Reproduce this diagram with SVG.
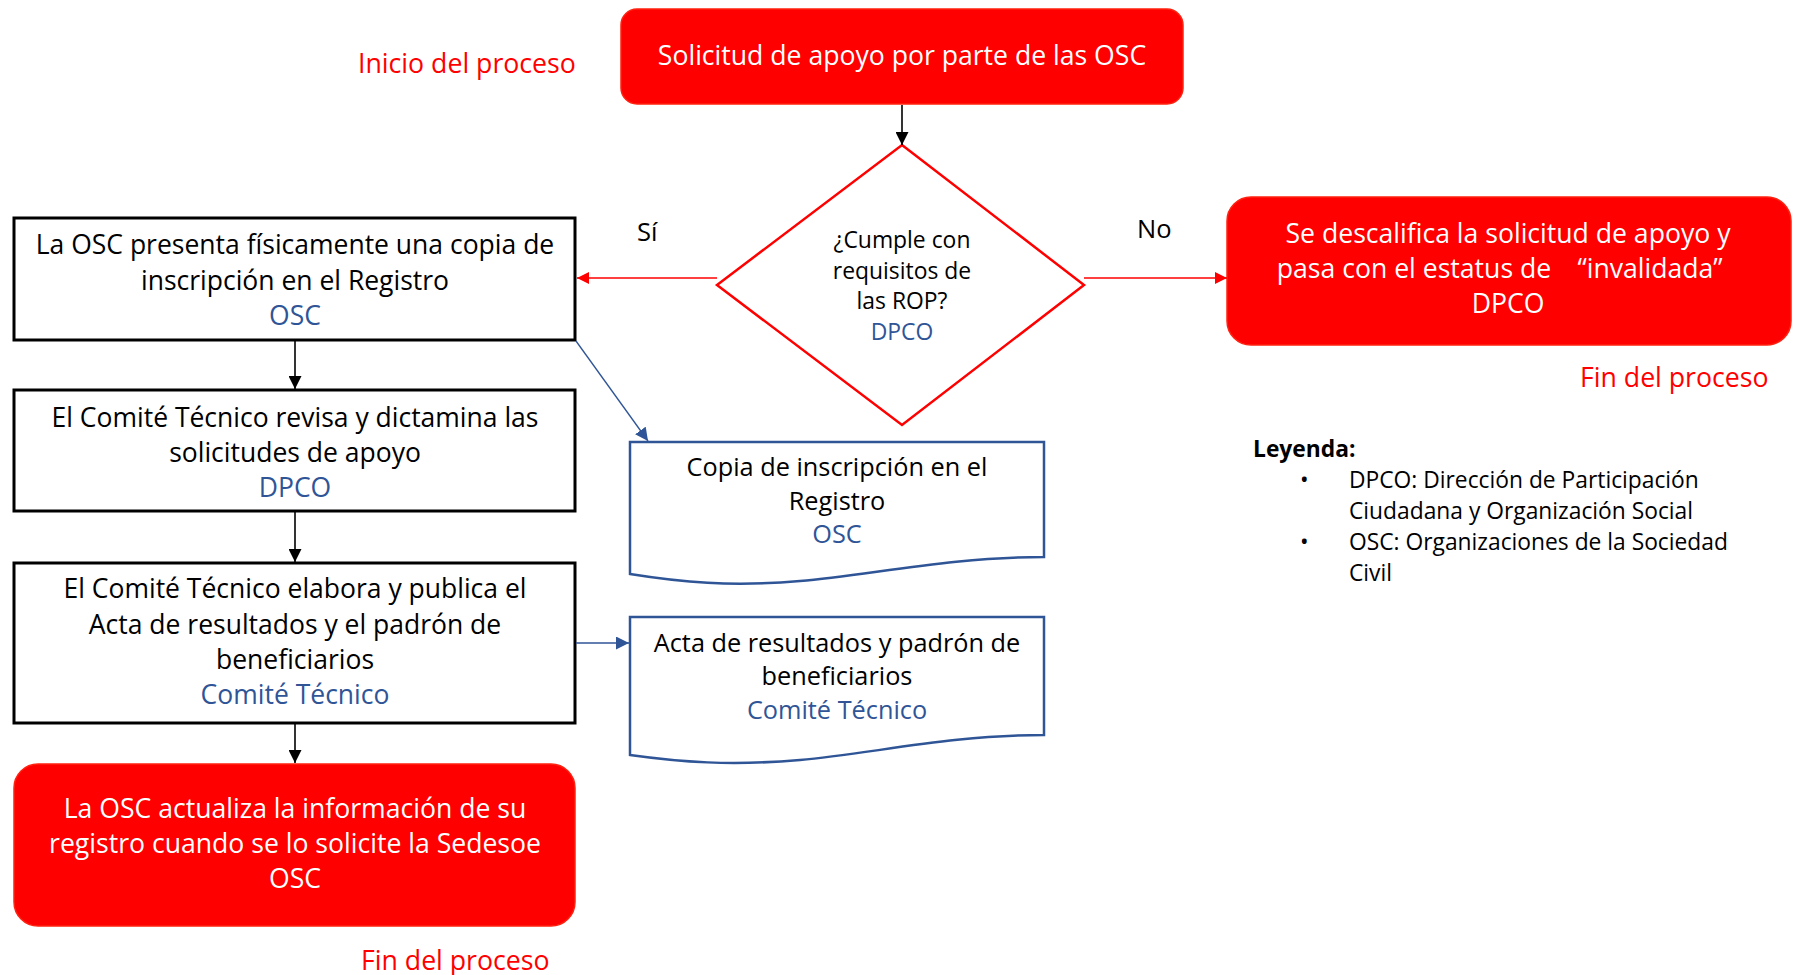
<svg xmlns="http://www.w3.org/2000/svg" width="1793" height="975" viewBox="0 0 1793 975">
<defs>
<style>
text{font-family:"Open Sans","Noto Sans","Liberation Sans",sans-serif;}
.t{font-size:26.5px;fill:#000;text-anchor:middle;}
.w{font-size:26.6px;fill:#fff;text-anchor:middle;}
.d{font-size:22.9px;fill:#000;text-anchor:middle;}
.dc{font-size:25.3px;fill:#000;text-anchor:middle;}
.lbl{font-size:26.7px;fill:#FF0000;}
.yn{font-size:25.5px;fill:#000;}
.lg{font-size:22.8px;fill:#000;}
text.b{fill:#2F5597;}
.box{fill:#fff;stroke:#000;stroke-width:3;}
.red{fill:#FF0000;stroke:#F21;stroke-width:1.5;}
.doc{fill:#fff;stroke:#2F5597;stroke-width:2.5;}
.ck{stroke:#000;stroke-width:1.6;fill:none;}
.cr{stroke:#FF0000;stroke-width:1.3;fill:none;}
.cb{stroke:#2F5597;stroke-width:1.3;fill:none;}
</style>
<marker id="ak" viewBox="0 0 10 10" refX="10" refY="5" markerWidth="13" markerHeight="13" markerUnits="userSpaceOnUse" orient="auto"><path d="M0,0 L10,5 L0,10 Z" fill="#000"/></marker>
<marker id="ar" viewBox="0 0 10 10" refX="10" refY="5" markerWidth="12" markerHeight="12" markerUnits="userSpaceOnUse" orient="auto"><path d="M0,0 L10,5 L0,10 Z" fill="#FF0000"/></marker>
<marker id="ab" viewBox="0 0 10 10" refX="10" refY="5" markerWidth="13" markerHeight="13" markerUnits="userSpaceOnUse" orient="auto"><path d="M0,0 L10,5 L0,10 Z" fill="#2F5597"/></marker>
</defs>
<rect width="1793" height="975" fill="#fff"/>

<text class="lbl" x="358" y="73">Inicio del proceso</text>

<g id="start">
<rect class="red" x="621" y="9" width="562" height="95" rx="16"/>
<text class="w" x="902" y="65">Solicitud de apoyo por parte de las OSC</text>
</g>

<g id="decision">
<polygon points="902,145 1084,285 902,425 717,285" fill="#fff" stroke="#FF0000" stroke-width="2.5"/>
<text class="d" x="902" y="248">¿Cumple con</text>
<text class="d" x="902" y="279">requisitos de</text>
<text class="d" x="902" y="309">las ROP?</text>
<text class="d b" x="902" y="340">DPCO</text>
</g>

<text class="yn" x="637" y="241">Sí</text>
<text class="yn" x="1137" y="238">No</text>

<g id="reject">
<rect class="red" x="1227" y="197" width="564" height="148" rx="24"/>
<text class="w" x="1508" y="243">Se descalifica la solicitud de apoyo y</text>
<text class="w" x="1508" y="278"><tspan x="1414">pasa con el estatus de</tspan><tspan x="1650">“invalidada”</tspan></text>
<text class="w" x="1508" y="313">DPCO</text>
</g>
<text class="lbl" x="1580" y="387">Fin del proceso</text>

<g id="legend">
<text class="lg" x="1253" y="457" font-weight="bold">Leyenda:</text>
<text class="lg" x="1300" y="488">•</text>
<text class="lg" x="1349" y="488">DPCO: Dirección de Participación</text>
<text class="lg" x="1349" y="519">Ciudadana y Organización Social</text>
<text class="lg" x="1300" y="550">•</text>
<text class="lg" x="1349" y="550">OSC: Organizaciones de la Sociedad</text>
<text class="lg" x="1349" y="581">Civil</text>
</g>

<g id="step1">
<rect class="box" x="14" y="218" width="561" height="122"/>
<text class="t" x="295" y="254">La OSC presenta físicamente una copia de</text>
<text class="t" x="295" y="290">inscripción en el Registro</text>
<text class="t b" x="295" y="325">OSC</text>
</g>

<g id="step2">
<rect class="box" x="14" y="390" width="561" height="121"/>
<text class="t" x="295" y="427">El Comité Técnico revisa y dictamina las</text>
<text class="t" x="295" y="462">solicitudes de apoyo</text>
<text class="t b" x="295" y="497">DPCO</text>
</g>

<g id="step3">
<rect class="box" x="14" y="563" width="561" height="160"/>
<text class="t" x="295" y="598">El Comité Técnico elabora y publica el</text>
<text class="t" x="295" y="634">Acta de resultados y el padrón de</text>
<text class="t" x="295" y="669">beneficiarios</text>
<text class="t b" x="295" y="704">Comité Técnico</text>
</g>

<g id="end1">
<rect class="red" x="14" y="764" width="561" height="162" rx="24"/>
<text class="w" x="295" y="818">La OSC actualiza la información de su</text>
<text class="w" x="295" y="853">registro cuando se lo solicite la Sedesoe</text>
<text class="w" x="295" y="888">OSC</text>
</g>
<text class="lbl" x="361" y="970">Fin del proceso</text>

<g id="doc1">
<path class="doc" d="M630,442 H1044 V557 C950,557 870,575 800,581 C730,587 680,582 630,574 Z"/>
<text class="dc" x="837" y="476">Copia de inscripción en el</text>
<text class="dc" x="837" y="510">Registro</text>
<text class="dc b" x="837" y="543">OSC</text>
</g>

<g id="doc2">
<path class="doc" d="M630,617 H1044 V735 C950,735 870,754 800,760 C730,766 680,762 630,755 Z"/>
<text class="dc" x="837" y="652">Acta de resultados y padrón de</text>
<text class="dc" x="837" y="685">beneficiarios</text>
<text class="dc b" x="837" y="719">Comité Técnico</text>
</g>

<g id="connectors">
<line class="ck" x1="902" y1="105" x2="902" y2="145" marker-end="url(#ak)"/>
<line class="cr" x1="717" y1="278" x2="577" y2="278" marker-end="url(#ar)"/>
<line class="cr" x1="1084" y1="278" x2="1227" y2="278" marker-end="url(#ar)"/>
<line class="ck" x1="295" y1="341" x2="295" y2="389" marker-end="url(#ak)"/>
<line class="ck" x1="295" y1="512" x2="295" y2="562" marker-end="url(#ak)"/>
<line class="ck" x1="295" y1="724" x2="295" y2="763" marker-end="url(#ak)"/>
<line class="cb" x1="576" y1="341" x2="648" y2="441" marker-end="url(#ab)"/>
<line class="cb" x1="576" y1="643" x2="629" y2="643" marker-end="url(#ab)"/>
</g>
</svg>
